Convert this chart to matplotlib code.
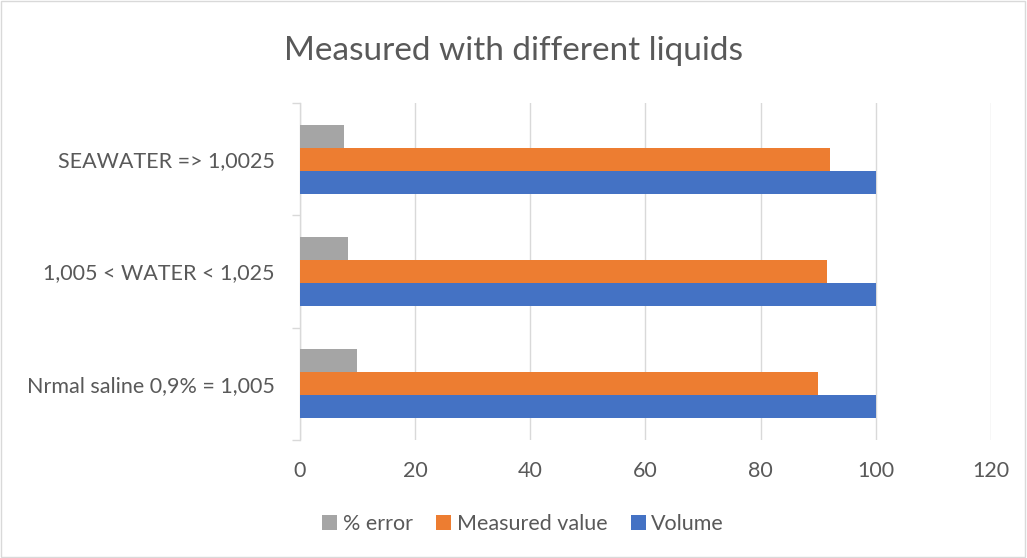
import numpy as np
import matplotlib.pyplot as plt

categories = ["Nrmal saline 0,9% = 1,005", "1,005 < WATER < 1,025", "SEAWATER => 1,0025"]
volume = [100, 100, 100]
measured = [90, 91.5, 92]
pct_error = [10, 8.4, 7.7]
x_ticks = [0, 20, 40, 60, 80, 100, 120]

plt.rcParams['font.family'] = ['Lato', 'DejaVu Sans']
text_col = '#595959'

fig = plt.figure(figsize=(10.27, 5.58), dpi=100)
ax = fig.add_axes([0.292, 0.2115, 0.673, 0.604])

y = np.arange(len(categories))
h = 0.205
ax.barh(y - h, volume, height=h, color='#4472C4', label='Volume', zorder=3)
ax.barh(y, measured, height=h, color='#ED7D31', label='Measured value', zorder=3)
ax.barh(y + h, pct_error, height=h, color='#A5A5A5', label='% error', zorder=3)

ax.set_xlim(0, 120)
ax.set_ylim(-0.5, 2.5)
ax.set_xticks(x_ticks)
ax.grid(axis='x', color='#d9d9d9', linewidth=1, zorder=0)
for s in ['top', 'right', 'bottom']:
    ax.spines[s].set_visible(False)
ax.spines['left'].set_color('#d9d9d9')
ax.spines['left'].set_linewidth(1)

ax.set_yticks(y)
ax.set_yticklabels(categories)
ax.set_yticks([-0.5, 0.5, 1.5, 2.5], minor=True)
ax.tick_params(axis='y', which='major', length=0, pad=18, labelsize=15.5, labelcolor=text_col)
ax.tick_params(axis='y', which='minor', length=6, color='#d9d9d9', width=1)
ax.tick_params(axis='x', length=0, pad=15, labelsize=15.5, labelcolor=text_col)

fig.suptitle('Measured with different liquids', y=0.935, fontsize=24, color=text_col)

handles, labels = ax.get_legend_handles_labels()
ax.legend(handles[::-1], labels[::-1], loc='center', bbox_to_anchor=(0.323, -0.25),
          ncol=3, frameon=False, fontsize=15.5, labelcolor=text_col,
          handlelength=0.7, handleheight=0.7, handletextpad=0.25, columnspacing=1.1)

fig.patches.append(plt.Rectangle((0.001, 0.002), 0.997, 0.996, transform=fig.transFigure,
                                 fill=False, edgecolor='#d9d9d9', linewidth=1))

fig.savefig('out.png', dpi=100)
